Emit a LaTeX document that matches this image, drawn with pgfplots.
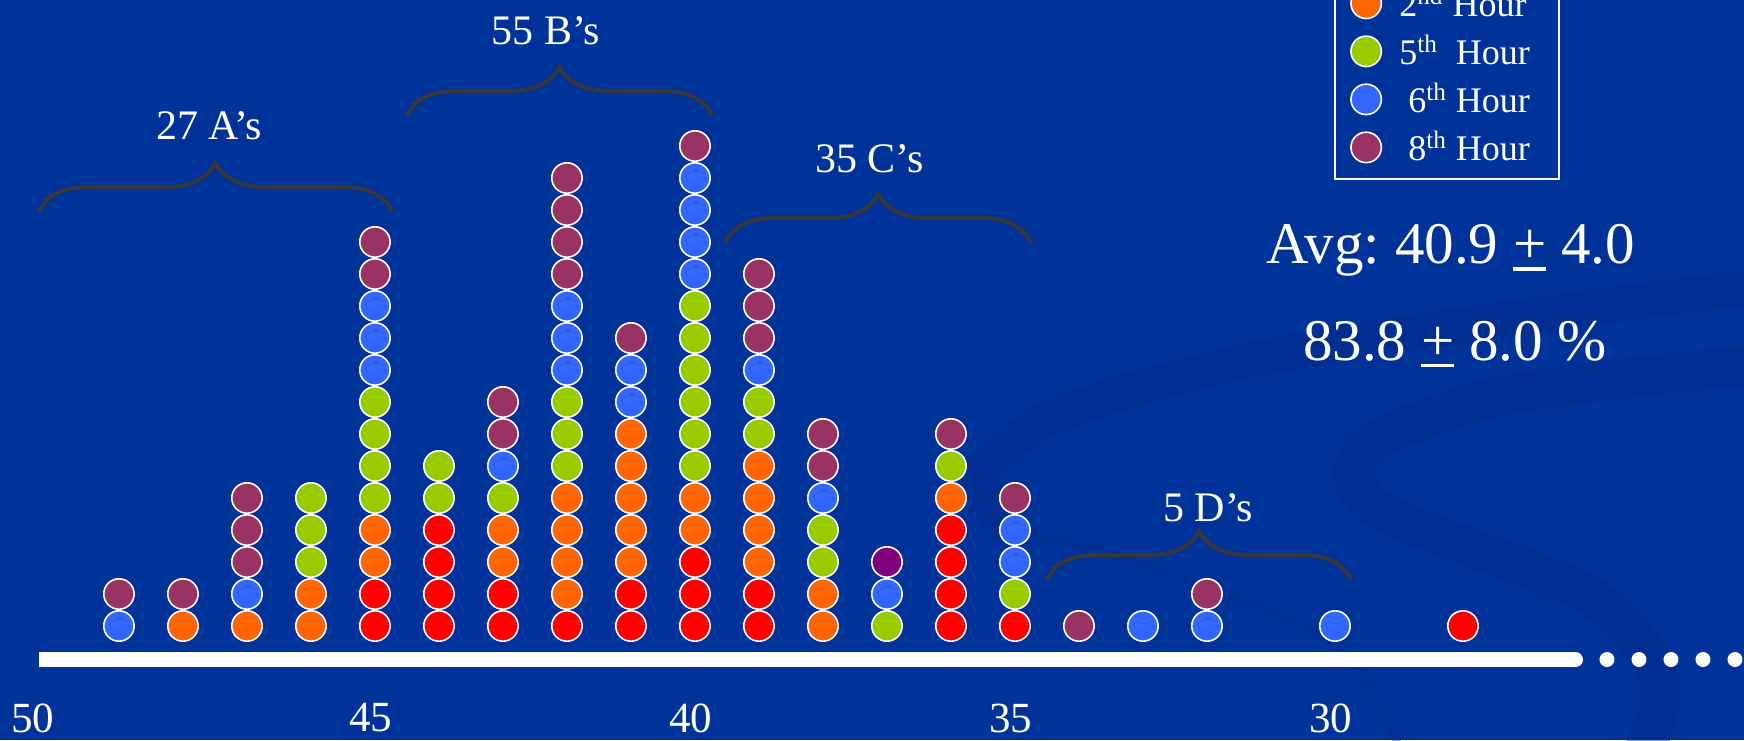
\documentclass[border=0pt]{standalone}
\usepackage{pgfplots}
\pgfplotsset{compat=1.18}
\usepackage{fontspec}
\setmainfont{Liberation Serif}
\usetikzlibrary{decorations.pathreplacing}
\frenchspacing

\definecolor{bgblue}{HTML}{003399}
\definecolor{bandblue}{HTML}{002C88}
\definecolor{hourA}{HTML}{FF0000}
\definecolor{hourB}{HTML}{FF6600}
\definecolor{hourE}{HTML}{99CC00}
\definecolor{hourF}{HTML}{3366FF}
\definecolor{hourH}{HTML}{993366}
\definecolor{extra}{HTML}{800080}
\definecolor{bracegray}{HTML}{383838}

% underlined plus sign used for the spread
\newcommand{\ulplus}{\leavevmode\vtop{\hbox{+}\kern2pt\hrule height 1.7pt}}

\begin{document}
\begin{tikzpicture}
\path[use as bounding box, clip] (0pt,0pt) rectangle (872pt,370pt);
\fill[bgblue] (0pt,0pt) rectangle (872pt,370pt);
% faint swooshes of the slide background
\draw[bandblue, line width=18pt, opacity=0.45, line cap=round]
  plot[smooth] coordinates {(880pt,227pt) (750pt,210pt) (625pt,190pt) (530pt,163pt) (492pt,135pt) (500pt,108pt)};
\draw[bandblue, line width=4pt, opacity=0.4]
  plot[smooth] coordinates {(500pt,108pt) (580pt,85pt) (670pt,45pt) (700pt,-5pt)};
\draw[bandblue, line width=20pt, opacity=0.45]
  plot[smooth] coordinates {(880pt,188pt) (750pt,172pt) (682pt,145pt) (690pt,115pt) (795pt,72pt) (830pt,30pt) (822pt,-5pt)};

\begin{axis}[
  at={(0pt,0pt)}, anchor=south west,
  scale only axis, width=872pt, height=370pt,
  x dir=reverse,
  xmin=23.609, xmax=50.859, ymin=-2.5625, ymax=20.5625,
  axis line style={draw=none}, tick style={draw=none},
  ytick=\empty,
  xtick={30,35,40,45},
  extra x ticks={50},
  extra x tick style={xticklabel style={xshift=-9pt}},
  /pgf/number format/assume math mode=true,
  xticklabel style={text=white, font=\fontsize{21.5}{25}\selectfont,
    anchor=center, inner sep=0pt, yshift=11pt, xshift=-2pt},
  legend style={at={(axis cs:30.016,14.94)}, anchor=south west,
    draw=white, line width=1pt, fill=none, text=white,
    font=\fontsize{18}{21}\selectfont,
    inner xsep=8pt, inner ysep=7.5pt, row sep=7.5pt, column sep=9pt,
    nodes={inner sep=0pt}},
  legend cell align=left,
]
% number line with its continuation dots
\draw[white, line width=7.5pt] (axis cs:50.25,-0.047) -- (axis cs:26.242,-0.047);
\fill[white] (axis cs:26.242,-0.047) circle (3.75pt);
\draw[white, line width=7.5pt, line cap=round, dash pattern=on 0pt off 16pt]
  (axis cs:25.75,-0.047) -- (axis cs:23.3,-0.047);

\pgfplotsset{dot/.style={only marks, mark=*, mark size=7.6pt,
  mark options={fill=#1, draw=white, line width=0.8pt}}}

% 1st hour
\addplot[dot=hourA] coordinates {
 (45,1) (45,2) (44,1) (44,2) (44,3) (44,4) (43,1) (43,2) (42,1)
 (41,1) (41,2) (40,1) (40,2) (40,3) (39,1) (39,2)
 (36,1) (36,2) (36,3) (36,4) (35,1) (28,1)};
\addlegendentry{\makebox[72pt][l]{1\textsuperscript{st} Hour}}
% 2nd hour
\addplot[dot=hourB] coordinates {
 (48,1) (47,1) (46,1) (46,2) (45,3) (45,4) (43,3) (43,4)
 (42,2) (42,3) (42,4) (42,5) (41,3) (41,4) (41,5) (41,6) (41,7)
 (40,4) (40,5) (39,3) (39,4) (39,5) (39,6) (38,1) (38,2) (36,5)};
\addlegendentry{\makebox[72pt][l]{2\textsuperscript{nd} Hour}}
% 5th hour
\addplot[dot=hourE] coordinates {
 (46,3) (46,4) (46,5) (45,5) (45,6) (45,7) (45,8) (44,5) (44,6) (43,5)
 (42,6) (42,7) (42,8) (40,6) (40,7) (40,8) (40,9) (40,10) (40,11)
 (39,7) (39,8) (38,3) (38,4) (37,1) (36,6) (35,2)};
\addlegendentry{\makebox[72pt][l]{5\textsuperscript{th}\ \ Hour}}
% 6th hour
\addplot[dot=hourF] coordinates {
 (49,1) (47,2) (45,9) (45,10) (45,11) (43,6) (42,9) (42,10) (42,11)
 (41,8) (41,9) (40,12) (40,13) (40,14) (40,15) (39,9) (38,5) (37,2)
 (35,3) (35,4) (33,1) (32,1) (30,1)};
\addlegendentry{\makebox[72pt][l]{\ 6\textsuperscript{th} Hour}}
% 8th hour
\addplot[dot=hourH] coordinates {
 (49,2) (48,2) (47,3) (47,4) (47,5) (45,12) (45,13) (43,7) (43,8)
 (42,12) (42,13) (42,14) (42,15) (41,10) (40,16) (39,10) (39,11) (39,12)
 (38,6) (38,7) (36,7) (35,5) (34,1) (32,2)};
\addlegendentry{\makebox[72pt][l]{\ 8\textsuperscript{th} Hour}}
% one unlisted mark
\addplot[dot=extra, forget plot] coordinates {(37,3)};

% grade groups
\begin{scope}[line width=2pt, bracegray, decoration={brace, amplitude=24pt}]
\draw[decorate] (axis cs:50.25,13.97) -- (axis cs:44.734,13.97);
\draw[decorate] (axis cs:44.5,16.97) -- (axis cs:39.734,16.97);
\draw[decorate] (axis cs:39.53,13.0) -- (axis cs:34.75,13.0);
\draw[decorate] (axis cs:34.5,2.47) -- (axis cs:29.75,2.47);
\end{scope}
\begin{scope}[every node/.style={text=white, font=\fontsize{21}{25}\selectfont}]
\node at (axis cs:47.59,16.625) {27 A’s};
\node at (axis cs:42.33,19.59) {55 B’s};
\node at (axis cs:37.27,15.59) {35 C’s};
\node at (axis cs:31.98,4.69) {5 D’s};
\end{scope}
\node[anchor=base, text=white, font=\fontsize{29.5}{34}\selectfont]
  at (axis cs:28.19,12.34) {Avg: 40.9 \ulplus{} 4.0};
\node[anchor=base, text=white, font=\fontsize{29.5}{34}\selectfont]
  at (axis cs:28.125,9.31) {83.8 \ulplus{} 8.0 \%};
\end{axis}
\end{tikzpicture}
\end{document}
